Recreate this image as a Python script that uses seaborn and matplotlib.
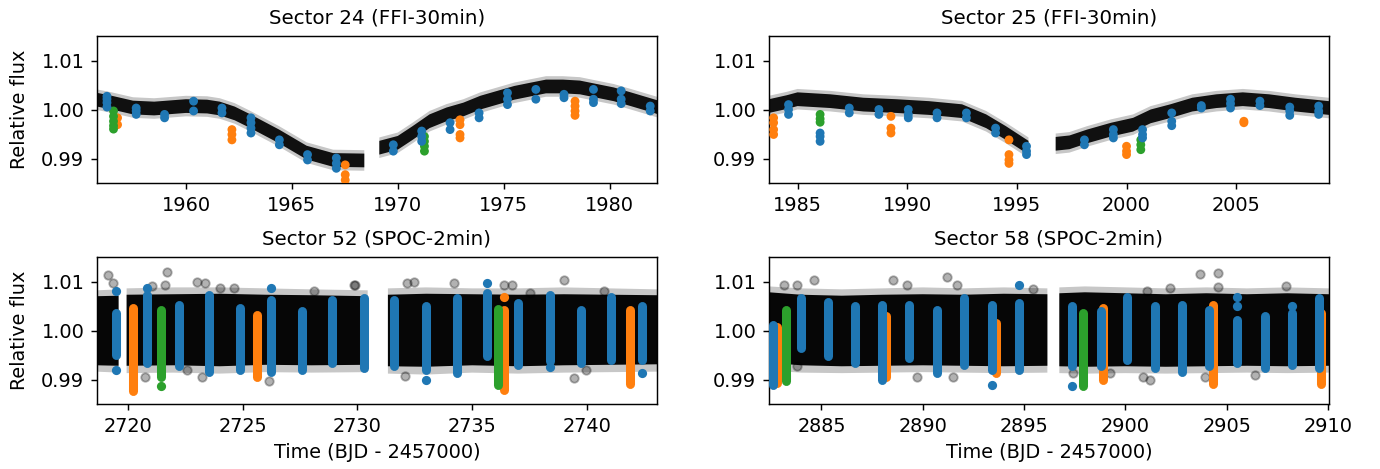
import numpy as np
import pandas as pd
import matplotlib
matplotlib.use("Agg")
import matplotlib.pyplot as plt
import seaborn as sns

sns.set_style("ticks")
plt.rcParams["font.family"] = ["DejaVu Sans"]
plt.rcParams["font.size"] = 10.7
plt.rcParams["axes.edgecolor"] = "black"
plt.rcParams["text.color"] = "black"
plt.rcParams["axes.labelcolor"] = "black"
plt.rcParams["xtick.color"] = "black"
plt.rcParams["ytick.color"] = "black"

BLUE, ORANGE, GREEN = "#1f77b4", "#ff7f0e", "#2ca02c"

# ---------------- Sector 24 (FFI) ----------------
s24_trend_t = [1955.8, 1956.5, 1957.5, 1958.5, 1960.0, 1961.0, 1961.6, 1962.3, 1963.0, 1964.4,
               1965.7, 1966.95, 1968.42, np.nan, 1969.13, 1970.0, 1970.7, 1971.5, 1972.3,
               1973.1, 1973.9, 1974.7, 1975.5, 1976.3, 1977.0, 1977.8, 1978.6, 1979.4,
               1980.2, 1981.0, 1982.24]
s24_trend_f = [1.0020, 1.0014, 1.0004, 1.0002, 1.0007, 1.0006, 1.0002, 0.9992, 0.9977, 0.9945,
               0.9912, 0.9897, 0.9896, np.nan, 0.9922, 0.9932, 0.9952, 0.9976, 0.9990,
               1.0000, 1.0014, 1.0024, 1.0034, 1.0041, 1.0047, 1.0047, 1.0045, 1.0038,
               1.0031, 1.0021, 1.0005]
s24_blue_t = [1956.27]*4 + [1957.65]*3 + [1958.99]*2 + [1960.36]*2 + [1961.70]*2 + [1963.07]*4 + \
             [1964.41]*2 + [1965.74]*2 + [1967.10]*3 + [1969.79]*2 + [1971.13]*3 + [1972.47]*2 + \
             [1973.84]*2 + [1975.18]*3 + [1976.52]*2 + [1977.85]*2 + [1979.24]*3 + [1980.55]*3 + [1981.92]*2
s24_blue_f = [1.0027, 1.0021, 1.0014, 1.0005, 1.0003, 0.9997, 0.9990, 0.9990, 0.9983, 1.0017, 0.9997,
              1.0003, 0.9993, 0.9983, 0.9973, 0.9962, 0.9952, 0.9938, 0.9928, 0.9908, 0.9897,
              0.9901, 0.9890, 0.9880, 0.9928, 0.9915, 0.9956, 0.9945, 0.9935, 0.9973, 0.9959,
              0.9993, 0.9983, 1.0034, 1.0021, 1.0010, 1.0041, 1.0021, 1.0031, 1.0024,
              1.0041, 1.0021, 1.0014, 1.0038, 1.0021, 1.0012, 1.0007, 0.9997]
s24_orange_t = [1956.77]*2 + [1962.17]*3 + [1967.52]*3 + [1972.94]*4 + [1978.37]*4
s24_orange_f = [0.9983, 0.9969, 0.9959, 0.9949, 0.9938, 0.9887, 0.9867, 0.9856,
                0.9979, 0.9969, 0.9949, 0.9942, 1.0017, 1.0007, 0.9997, 0.9988]
s24_green_t = [1956.58]*5 + [1971.26]*4
s24_green_f = [0.9997, 0.9986, 0.9976, 0.9967, 0.9960, 0.9945, 0.9935, 0.9925, 0.9915]

# ---------------- Sector 25 (FFI) ----------------
s25_trend_t = [1983.7, 1984.5, 1985.0, 1986.5, 1988.0, 1989.5, 1991.0, 1992.5, 1993.6, 1994.5,
               1995.53, np.nan, 1996.77, 1997.4, 1998.2, 1999.3, 2000.3, 2001.1, 2002.0,
               2003.0, 2004.1, 2005.3, 2006.5, 2007.7, 2009.23]
s25_trend_f = [1.0007, 1.0015, 1.0021, 1.0017, 1.0010, 1.0007, 1.0003, 0.99966, 0.9976, 0.9952,
               0.9922, np.nan, 0.9930, 0.9933, 0.9945, 0.9959, 0.9969, 0.9986, 0.99966,
               1.0010, 1.0017, 1.0021, 1.0017, 1.0010, 1.0003]
s25_blue_t = [1984.59]*3 + [1986.03]*3 + [1987.36]*2 + [1988.71]*2 + [1990.05]*3 + [1991.36]*2 + \
             [1992.70]*2 + [1994.03]*2 + [1995.44]*3 + [1998.08]*2 + [1999.40]*3 + [2000.73]*3 + \
             [2002.06]*3 + [2003.41]*2 + [2004.74]*3 + [2006.08]*2 + [2007.44]*3 + [2008.76]*3
s25_blue_f = [1.0010, 1.0000, 0.9990, 0.9952, 0.9945, 0.9935, 1.0003, 0.9993, 1.0000, 0.9990,
              1.0000, 0.9990, 0.9983, 0.9993, 0.9983, 0.9993, 0.9983, 0.9962, 0.9952,
              0.9925, 0.9915, 0.9908, 0.9938, 0.9928, 0.9959, 0.9949, 0.9942, 0.9959, 0.9949, 0.9942,
              0.9993, 0.9976, 0.9967, 1.0008, 1.0003, 1.0021, 1.0012, 1.0003, 1.0017, 1.0008,
              1.0005, 0.9997, 0.9988, 1.0007, 0.9997, 0.9990]
s25_orange_t = [1983.91]*4 + [1989.26]*3 + [1994.64]*4 + [2000.00]*3 + [2005.35]*2
s25_orange_f = [0.9983, 0.9973, 0.9959, 0.9949, 0.9986, 0.9962, 0.9952, 0.9938, 0.9908, 0.9897, 0.9890,
                0.9925, 0.9915, 0.9908, 0.9976, 0.9973]
s25_green_t = [1986.03]*3 + [2000.65]*3
s25_green_f = [0.9990, 0.9981, 0.9974, 0.9938, 0.9928, 0.9918]

# ---------------- Sector 52 (SPOC) ----------------
s52_band_t = [2718.66, 2719.6, np.nan, 2719.95, 2722.0, 2724.0, 2726.0, 2728.0, 2730.45, np.nan,
              2731.33, 2733.0, 2735.0, 2737.0, 2739.0, 2741.0, 2743.05]
s52_out_hi = [1.0082, 1.0084, np.nan, 1.0086, 1.0088, 1.0088, 1.0086, 1.0084, 1.0082, np.nan,
              1.0086, 1.0088, 1.0086, 1.0086, 1.0088, 1.0086, 1.0084]
s52_out_lo = [0.9916, 0.9914, np.nan, 0.9913, 0.9914, 0.9912, 0.9915, 0.9914, 0.9915, np.nan,
              0.9912, 0.9910, 0.9914, 0.9912, 0.9914, 0.9915, 0.9916]
s52_in_hi = [1.0070, 1.0071, np.nan, 1.0073, 1.0074, 1.0075, 1.0073, 1.0072, 1.0070, np.nan,
             1.0073, 1.0075, 1.0074, 1.0073, 1.0074, 1.0073, 1.0072]
s52_in_lo = [0.9929, 0.9928, np.nan, 0.9928, 0.9929, 0.9927, 0.9930, 0.9929, 0.9930, np.nan,
             0.9927, 0.9926, 0.9929, 0.9927, 0.9929, 0.9930, 0.9931]
s52_out_t = [2719.15, 2719.37, 2721.70, 2721.05, 2721.63, 2723.01, 2723.37, 2724.03, 2724.61, 2726.13,
             2720.75, 2723.23, 2722.57, 2728.10, 2729.84, 2732.17, 2732.46, 2734.20, 2739.00,
             2736.38, 2736.75, 2739.43, 2732.09, 2739.94, 2729.91, 2737.54, 2740.74]
s52_out_f = [1.0114, 1.0097, 1.0120, 1.0090, 1.0093, 1.0100, 1.0097, 1.0086, 1.0086, 0.9896,
             0.9906, 0.9906, 0.9920, 1.0080, 1.0093, 1.0097, 1.0100, 1.0097, 1.0103,
             1.0093, 1.0093, 0.9903, 0.9907, 0.9920, 1.0093, 1.0076, 1.0080]
s52_blue_t = [2719.48, 2720.82, 2722.21, 2723.52, 2724.90, 2726.24, 2727.59, 2728.90, 2730.28,
              2731.61, 2732.97, 2734.32, 2735.66, 2737.01, 2738.37, 2739.73, 2741.03, 2742.39]
s52_blue_hi = [1.0035, 1.0073, 1.0052, 1.0073, 1.0046, 1.0063, 1.0039, 1.0063, 1.0066,
               1.0063, 1.0049, 1.0066, 1.0076, 1.0056, 1.0073, 1.0042, 1.0069, 1.0049]
s52_blue_lo = [0.9950, 0.9933, 0.9927, 0.9916, 0.9920, 0.9916, 0.9920, 0.9933, 0.9923,
               0.9927, 0.9920, 0.9913, 0.9947, 0.9930, 0.9937, 0.9933, 0.9940, 0.9940]
s52_blue_dot_t = [2719.48, 2719.48, 2720.82, 2726.24, 2732.97, 2735.66, 2738.37, 2742.39]
s52_blue_dot_f = [1.0080, 0.9920, 1.0086, 1.0086, 0.9898, 1.0097, 0.9925, 0.9914]
s52_orange_t = [2720.24, 2725.65, 2736.38, 2741.88]
s52_orange_hi = [1.0046, 1.0032, 1.0042, 1.0042]
s52_orange_lo = [0.9876, 0.9906, 0.9879, 0.9891]
s52_orange_dot_t = [2736.38]
s52_orange_dot_f = [1.0069]
s52_green_t = [2721.45, 2736.12]
s52_green_hi = [1.0042, 1.0044]
s52_green_lo = [0.9906, 0.9889]
s52_green_dot_t = [2721.45]
s52_green_dot_f = [0.9887]

# ---------------- Sector 58 (SPOC) ----------------
s58_band_t = [2882.41, 2884.0, 2886.0, 2888.0, 2890.0, 2892.0, 2894.0, 2896.15, np.nan,
              2896.74, 2898.0, 2900.0, 2902.0, 2904.0, 2906.0, 2908.0, 2910.05]
s58_out_hi = [1.0090, 1.0086, 1.0084, 1.0086, 1.0088, 1.0086, 1.0088, 1.0086, np.nan,
              1.0088, 1.0090, 1.0088, 1.0086, 1.0088, 1.0086, 1.0088, 1.0086]
s58_out_lo = [0.9918, 0.9914, 0.9913, 0.9914, 0.9915, 0.9914, 0.9913, 0.9914, np.nan,
              0.9913, 0.9912, 0.9913, 0.9912, 0.9913, 0.9914, 0.9913, 0.9914]
s58_in_hi = [1.0078, 1.0073, 1.0071, 1.0073, 1.0074, 1.0073, 1.0075, 1.0074, np.nan,
             1.0076, 1.0078, 1.0076, 1.0074, 1.0076, 1.0074, 1.0076, 1.0074]
s58_in_lo = [0.9934, 0.9929, 0.9927, 0.9928, 0.9929, 0.9928, 0.9927, 0.9928, np.nan,
             0.9927, 0.9926, 0.9927, 0.9926, 0.9927, 0.9928, 0.9927, 0.9928]
s58_out_t = [2884.61, 2883.13, 2883.79, 2888.55, 2891.18, 2891.68, 2889.70, 2891.51, 2883.79, 2889.21,
             2903.67, 2904.58, 2904.58, 2902.19, 2906.39, 2900.88, 2901.21, 2903.92, 2899.24,
             2897.43, 2907.95, 2895.45, 2901.05]
s58_out_f = [1.0103, 1.0093, 1.0093, 1.0103, 1.0110, 1.0093, 0.9906, 0.9906, 0.9927, 1.0093,
             1.0115, 1.0118, 1.0088, 1.0086, 0.9910, 0.9906, 0.9898, 0.9906, 0.9914,
             0.9914, 1.0090, 1.0084, 1.0080]
s58_blue_t = [2882.63, 2883.98, 2885.30, 2886.66, 2887.98, 2889.34, 2890.70, 2892.04, 2893.40,
              2894.76, 2897.38, 2898.78, 2900.09, 2901.46, 2902.80, 2904.13, 2905.51, 2906.88,
              2908.22, 2909.56]
s58_blue_hi = [1.0012, 1.0066, 1.0059, 1.0050, 1.0052, 1.0052, 1.0042, 1.0066, 1.0052,
               1.0056, 1.0049, 1.0039, 1.0069, 1.0049, 1.0052, 1.0042, 1.0022, 1.0029,
               1.0035, 1.0066]
s58_blue_lo = [0.9889, 0.9964, 0.9947, 0.9933, 0.9899, 0.9944, 0.9913, 0.9930, 0.9920,
               0.9920, 0.9927, 0.9927, 0.9940, 0.9923, 0.9916, 0.9927, 0.9933, 0.9923,
               0.9930, 0.9923]
s58_blue_dot_t = [2893.40, 2894.76, 2897.38, 2905.51, 2905.51, 2908.22]
s58_blue_dot_f = [0.9889, 1.0093, 0.9886, 1.0069, 1.0049, 1.0049]
s58_orange_t = [2882.80, 2888.19, 2893.61, 2898.91, 2904.30, 2909.67]
s58_orange_hi = [1.0008, 1.0029, 1.0015, 1.0046, 1.0052, 1.0035]
s58_orange_lo = [0.9893, 0.9906, 0.9913, 0.9899, 0.9891, 0.9891]
s58_green_t = [2883.26, 2897.92]
s58_green_hi = [1.0042, 1.0035]
s58_green_lo = [0.9896, 0.9886]

xlims = {"s24": (1955.8, 1982.24), "s25": (1983.7, 2009.23),
         "s52": (2718.66, 2743.05), "s58": (2882.41, 2910.05)}
titles = {"s24": "Sector 24 (FFI-30min)", "s25": "Sector 25 (FFI-30min)",
          "s52": "Sector 52 (SPOC-2min)", "s58": "Sector 58 (SPOC-2min)"}

W, H = 1380, 469
DPI = 130
fig = plt.figure(figsize=(W / DPI, H / DPI), dpi=DPI)

def box(x0, x1, y0, y1):
    return [x0 / W, 1 - y1 / H, (x1 - x0) / W, (y1 - y0) / H]

ax24 = fig.add_axes(box(97, 657, 36, 183))
ax25 = fig.add_axes(box(769, 1329, 36, 183))
ax52 = fig.add_axes(box(97, 657, 257, 404))
ax58 = fig.add_axes(box(769, 1329, 257, 404))

FFI_IN, FFI_OUT = 0.0014, 0.0021

def ffi_panel(ax, tt, ff, bt, bf, ot, of, gt, gf):
    tt = np.array(tt); ff = np.array(ff)
    ax.fill_between(tt, ff - FFI_OUT, ff + FFI_OUT, color="k", alpha=0.22, lw=0)
    ax.fill_between(tt, ff - FFI_IN, ff + FFI_IN, color="k", alpha=0.92, lw=0)
    df = pd.concat([
        pd.DataFrame({"t": ot, "f": of, "c": "orange"}),
        pd.DataFrame({"t": gt, "f": gf, "c": "green"}),
        pd.DataFrame({"t": bt, "f": bf, "c": "blue"}),
    ])
    sns.scatterplot(data=df, x="t", y="f", hue="c",
                    palette={"blue": BLUE, "orange": ORANGE, "green": GREEN},
                    s=24, linewidth=0, legend=False, ax=ax, zorder=3)

def streaks(ax, t, lo, hi, color):
    lc = ax.vlines(t, lo, hi, colors=color, linewidth=5.0, zorder=3)
    lc.set_capstyle("round")

def spoc_panel(ax, bt_, ohi, olo, ihi, ilo, out_t, out_f):
    ax.fill_between(bt_, olo, ohi, color="k", alpha=0.22, lw=0)
    ax.fill_between(bt_, ilo, ihi, color="k", alpha=0.97, lw=0)
    sns.scatterplot(x=out_t, y=out_f, color="k", alpha=0.3, edgecolor="k",
                    linewidth=1.0, s=22, ax=ax, zorder=2)

ffi_panel(ax24, s24_trend_t, s24_trend_f, s24_blue_t, s24_blue_f,
          s24_orange_t, s24_orange_f, s24_green_t, s24_green_f)
ffi_panel(ax25, s25_trend_t, s25_trend_f, s25_blue_t, s25_blue_f,
          s25_orange_t, s25_orange_f, s25_green_t, s25_green_f)

spoc_panel(ax52, s52_band_t, s52_out_hi, s52_out_lo, s52_in_hi, s52_in_lo, s52_out_t, s52_out_f)
streaks(ax52, s52_orange_t, s52_orange_lo, s52_orange_hi, ORANGE)
streaks(ax52, s52_green_t, s52_green_lo, s52_green_hi, GREEN)
streaks(ax52, s52_blue_t, s52_blue_lo, s52_blue_hi, BLUE)
sns.scatterplot(x=s52_blue_dot_t, y=s52_blue_dot_f, color=BLUE, s=26, linewidth=0, ax=ax52, zorder=4)
sns.scatterplot(x=s52_orange_dot_t, y=s52_orange_dot_f, color=ORANGE, s=26, linewidth=0, ax=ax52, zorder=4)
sns.scatterplot(x=s52_green_dot_t, y=s52_green_dot_f, color=GREEN, s=26, linewidth=0, ax=ax52, zorder=4)

spoc_panel(ax58, s58_band_t, s58_out_hi, s58_out_lo, s58_in_hi, s58_in_lo, s58_out_t, s58_out_f)
streaks(ax58, s58_orange_t, s58_orange_lo, s58_orange_hi, ORANGE)
streaks(ax58, s58_green_t, s58_green_lo, s58_green_hi, GREEN)
streaks(ax58, s58_blue_t, s58_blue_lo, s58_blue_hi, BLUE)
sns.scatterplot(x=s58_blue_dot_t, y=s58_blue_dot_f, color=BLUE, s=26, linewidth=0, ax=ax58, zorder=4)

for key, ax in zip(["s24", "s25", "s52", "s58"], [ax24, ax25, ax52, ax58]):
    ax.set_xlim(*xlims[key])
    ax.set_ylim(0.985, 1.015)
    ax.set_yticks([0.99, 1.00, 1.01])
    ax.set_yticklabels(["0.99", "1.00", "1.01"])
    ax.set_title(titles[key], fontsize=11, pad=7)
    ax.set_xlabel("")
    ax.set_ylabel("")
    for sp in ax.spines.values():
        sp.set_visible(True)
        sp.set_color("black")
    ax.tick_params(labelsize=10.7)

ax24.set_ylabel("Relative flux", labelpad=7)
ax52.set_ylabel("Relative flux", labelpad=7)
ax52.set_xlabel("Time (BJD - 2457000)", fontsize=10.7)
ax58.set_xlabel("Time (BJD - 2457000)", fontsize=10.7)

fig.savefig("out.png", dpi=DPI)
